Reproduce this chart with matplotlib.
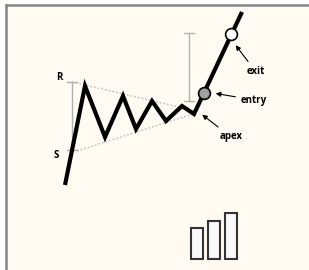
import matplotlib.pyplot as plt
from matplotlib.patches import Rectangle

# price path (time, price)
path_t = [65, 85, 105, 123, 136, 152, 166, 182, 194, 242]
path_p = [85, 184, 133, 174, 141, 169, 149, 164, 156, 258]

# converging trendlines
res_t = [72, 196]
res_p = [188, 159]
sup_t = [77, 196]
sup_p = [119, 157]

# pattern height and projected target
height_t = 72
height_lo, height_hi = 120, 188
target_t = 189
target_lo, target_hi = 169, 237

entry_pt = (204, 177)
exit_pt = (231, 236)
apex_pt = (200, 157)

# volume bars
vol_t = [197, 214, 231]
vol_h = [31, 38, 46]
vol_base = 11

labels = {"R": (59, 193), "S": (56, 115)}

fig = plt.figure(figsize=(3.09, 2.70), dpi=100, facecolor="white")
ax = fig.add_axes([6 / 309, 0, 303 / 309, 265 / 270])
ax.set_facecolor("#fffbf2")
ax.set_xlim(6, 309)
ax.set_ylim(0, 265)
ax.set_xticks([])
ax.set_yticks([])
for s in ["right", "bottom"]:
    ax.spines[s].set_visible(False)
for s in ["top", "left"]:
    ax.spines[s].set_color("#858585")
    ax.spines[s].set_linewidth(1.8)

# trendlines
ax.plot(res_t, res_p, color="#bdbdbd", lw=0.9, ls=(0, (1.5, 1.5)))
ax.plot(sup_t, sup_p, color="#bdbdbd", lw=0.9, ls=(0, (1.5, 1.5)))

# height brackets
gray = "#b0b0b0"
for t, lo, hi in [(height_t, height_lo, height_hi), (target_t, target_lo, target_hi)]:
    ax.plot([t, t], [lo, hi], color=gray, lw=1)
    ax.plot([t - 5, t + 5], [hi, hi], color=gray, lw=1)
    ax.plot([t - 5, t + 5], [lo, lo], color=gray, lw=1)

# price line
ax.plot(path_t, path_p, color="black", lw=3, solid_joinstyle="miter",
        solid_capstyle="butt")

ax.plot(*entry_pt, "o", ms=8.5, mfc="#a0a0a0", mec="black", mew=1.2)
ax.plot(*exit_pt, "o", ms=8.5, mfc="white", mec="black", mew=1.2)

font = dict(fontsize=7, fontweight="bold", family="Open Sans")
for k, (t, p) in labels.items():
    ax.text(t, p, k, ha="center", va="center", **font)

arrow = dict(arrowstyle="-|>", color="black", lw=0.8, mutation_scale=7)
ax.annotate("exit", xy=(exit_pt[0] + 3, exit_pt[1] - 9), xytext=(256, 198),
            ha="center", va="center", arrowprops=arrow, **font)
ax.annotate("entry", xy=(entry_pt[0] + 9, entry_pt[1]), xytext=(254, 170),
            ha="center", va="center", arrowprops=arrow, **font)
ax.annotate("apex", xy=apex_pt, xytext=(231, 133),
            ha="center", va="center", arrowprops=arrow, **font)

for t, h in zip(vol_t, vol_h):
    ax.add_patch(Rectangle((t - 6, vol_base), 12, h, facecolor="#f9f9f9",
                           edgecolor="#333333", lw=1.5))

fig.savefig("out.png", dpi=100)
